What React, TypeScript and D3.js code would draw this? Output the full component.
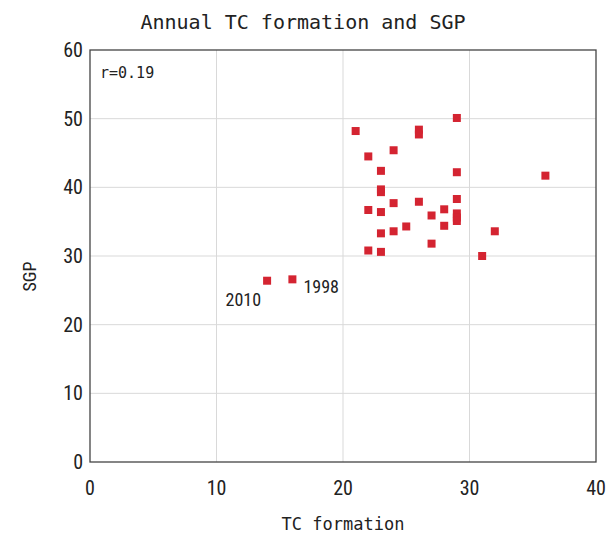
import React from "react";
import * as d3 from "d3";

const tcFormation = [29, 21, 26, 26, 22, 24, 23, 29, 36, 23, 23, 24, 26, 29, 22, 23, 28, 27, 29, 29, 29, 25, 28, 24, 23, 32, 27, 22, 23, 31, 16, 14];
const sgp = [50.1, 48.2, 48.4, 47.7, 44.5, 45.4, 42.4, 42.2, 41.7, 39.7, 39.3, 37.7, 37.9, 38.3, 36.7, 36.4, 36.8, 35.9, 36.2, 35.6, 35.1, 34.3, 34.4, 33.6, 33.3, 33.6, 31.8, 30.8, 30.6, 30.0, 26.6, 26.4];
const labeledYears = [
  { year: "1998", x: 16, y: 26.6, side: "right" },
  { year: "2010", x: 14, y: 26.4, side: "left" },
];
const xTicks = [0, 10, 20, 30, 40];
const yTicks = [0, 10, 20, 30, 40, 50, 60];
const title = "Annual TC formation and SGP";
const xLabel = "TC formation";
const yLabel = "SGP";
const rText = "r=0.19";

const W = 608;
const H = 536;
const M = { left: 90, right: 596, top: 50, bottom: 462 };

export default function App() {
  const x = d3.scaleLinear().domain([0, 40]).range([M.left, M.right]);
  const y = d3.scaleLinear().domain([0, 60]).range([M.bottom, M.top]);
  const mono = "'DejaVu Sans Mono', monospace";
  const narrow = "'Liberation Sans Narrow', 'Roboto Condensed', 'DejaVu Sans Condensed', 'Liberation Sans', sans-serif";
  const sq = 8;
  return (
    <svg width={W} height={H} style={{ position: "absolute", left: 0, top: 0, background: "#fff" }}>
      <rect x={0} y={0} width={W} height={H} fill="#fff" />
      <text x={303} y={29} textAnchor="middle" fontFamily={mono} fontSize={20} fill="#222">{title}</text>
      {xTicks.slice(1, -1).map((t) => (
        <line key={"gx" + t} x1={x(t)} x2={x(t)} y1={M.top} y2={M.bottom} stroke="#d9d9d9" strokeWidth={1} />
      ))}
      {yTicks.slice(1, -1).map((t) => (
        <line key={"gy" + t} x1={M.left} x2={M.right} y1={y(t)} y2={y(t)} stroke="#d9d9d9" strokeWidth={1} />
      ))}
      <rect x={M.left} y={M.top} width={M.right - M.left} height={M.bottom - M.top} fill="none" stroke="#444" strokeWidth={1.3} />
      {xTicks.map((t) => (
        <text key={"xt" + t} x={x(t)} y={495} textAnchor="middle" fontFamily={narrow} fontSize={20} fill="#222">{t}</text>
      ))}
      {yTicks.map((t) => (
        <text key={"yt" + t} x={83} y={y(t) + 7} textAnchor="end" fontFamily={narrow} fontSize={20} fill="#222">{t}</text>
      ))}
      {tcFormation.map((v, i) => (
        <rect key={"p" + i} x={x(v) - sq / 2} y={y(sgp[i]) - sq / 2} width={sq} height={sq} fill="#d42431" />
      ))}
      {labeledYears.map((d) => (
        <text
          key={d.year}
          x={d.side === "right" ? x(d.x) + 11 : x(d.x) - 6}
          y={d.side === "right" ? y(d.y) + 14 : y(d.y) + 25}
          textAnchor={d.side === "right" ? "start" : "end"}
          fontFamily={narrow}
          fontSize={18}
          fill="#222"
        >
          {d.year}
        </text>
      ))}
      <text x={100} y={78} fontFamily={mono} fontSize={15} fill="#222">{rText}</text>
      <text x={343} y={530} textAnchor="middle" fontFamily={mono} fontSize={17} fill="#222">{xLabel}</text>
      <text transform={`translate(36,${y(27)}) rotate(-90)`} textAnchor="middle" fontFamily={narrow} fontSize={18} fill="#222">{yLabel}</text>
    </svg>
  );
}
